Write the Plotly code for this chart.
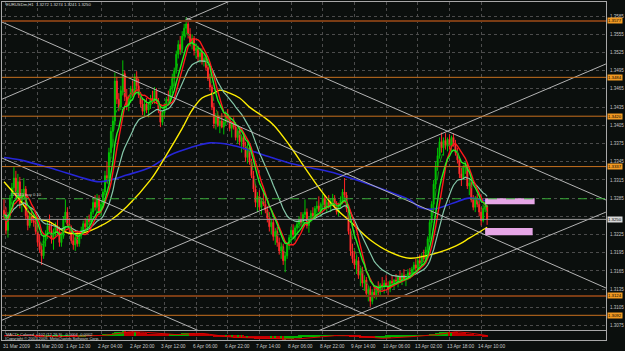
import numpy as np
import pandas as pd
import plotly.graph_objects as go

# ---------------- data ----------------
title_text = "EURUSDm,H1  1.3272 1.3274 1.3241 1.3250"

opens = [
1.3265,1.3258,1.3232,1.3255,1.3285,1.3302,1.3318,1.3292,1.3312,1.3275,
1.3290,1.3300,1.3256,1.3240,1.3255,1.3248,1.3245,1.3230,1.3212,1.3200,
1.3190,1.3215,1.3225,1.3240,1.3232,1.3218,1.3228,1.3238,1.3230,1.3212,
1.3222,1.3250,1.3262,1.3242,1.3235,1.3215,1.3208,1.3220,1.3210,1.3225,
1.3232,1.3243,1.3238,1.3250,1.3246,1.3262,1.3278,1.3270,1.3285,1.3262,
1.3275,1.3295,1.3322,1.3318,1.3360,1.3395,1.3412,1.3478,1.3448,1.3435,
1.3462,1.3490,1.3452,1.3438,1.3450,1.3465,1.3458,1.3485,1.3470,1.3455,
1.3440,1.3428,1.3440,1.3430,1.3438,1.3450,1.3445,1.3462,1.3445,1.3430,
1.3410,1.3425,1.3438,1.3448,1.3445,1.3465,1.3482,1.3495,1.3522,1.3538,
1.3530,1.3552,1.3565,1.3572,1.3555,1.3542,1.3548,1.3528,1.3532,1.3518,
1.3525,1.3510,1.3515,1.3500,1.3482,1.3468,1.3435,1.3408,1.3420,1.3405,
1.3412,1.3402,1.3410,1.3422,1.3415,1.3400,1.3408,1.3402,1.3385,1.3396,
1.3378,1.3385,1.3370,1.3352,1.3368,1.3345,1.3322,1.3300,1.3278,1.3288,
1.3270,1.3280,1.3275,1.3265,1.3252,1.3238,1.3245,1.3222,1.3230,1.3212,
1.3198,1.3205,1.3182,1.3190,1.3208,1.3220,1.3232,1.3225,1.3236,1.3242,
1.3250,1.3245,1.3258,1.3262,1.3240,1.3250,1.3260,1.3255,1.3268,1.3272,
1.3265,1.3275,1.3285,1.3270,1.3278,1.3272,1.3280,1.3285,1.3272,1.3262,
1.3275,1.3282,1.3295,1.3290,1.3268,1.3230,1.3198,1.3185,1.3175,1.3182,
1.3158,1.3165,1.3145,1.3150,1.3128,1.3135,1.3115,1.3130,1.3125,1.3138,
1.3130,1.3142,1.3140,1.3145,1.3140,1.3135,1.3148,1.3145,1.3150,1.3148,
1.3155,1.3150,1.3158,1.3152,1.3155,1.3162,1.3158,1.3168,1.3175,1.3170,
1.3182,1.3178,1.3190,1.3185,1.3200,1.3218,1.3245,1.3275,1.3308,1.3338,
1.3355,1.3378,1.3368,1.3380,1.3372,1.3382,1.3370,1.3385,1.3375,1.3360,
1.3348,1.3325,1.3318,1.3335,1.3340,1.3305,1.3310,1.3282,1.3270,1.3285,
1.3275,1.3262,1.3248,1.3268,1.3272]

highs = [
1.3285,1.3270,1.3262,1.3290,1.3310,1.3336,1.3330,1.3325,1.3320,1.3300,
1.3318,1.3305,1.3270,1.3262,1.3268,1.3258,1.3255,1.3240,1.3225,1.3210,
1.3222,1.3232,1.3248,1.3258,1.3245,1.3235,1.3245,1.3250,1.3238,1.3228,
1.3255,1.3283,1.3270,1.3252,1.3240,1.3230,1.3225,1.3232,1.3228,1.3238,
1.3248,1.3252,1.3255,1.3258,1.3268,1.3285,1.3290,1.3292,1.3290,1.3280,
1.3300,1.3330,1.3345,1.3368,1.3402,1.3420,1.3492,1.3485,1.3458,1.3470,
1.3512,1.3495,1.3465,1.3455,1.3470,1.3478,1.3490,1.3494,1.3482,1.3460,
1.3448,1.3445,1.3450,1.3442,1.3455,1.3462,1.3468,1.3466,1.3450,1.3436,
1.3430,1.3442,1.3452,1.3462,1.3470,1.3490,1.3500,1.3528,1.3545,1.3552,
1.3560,1.3572,1.3583,1.3580,1.3565,1.3555,1.3552,1.3540,1.3536,1.3530,
1.3532,1.3522,1.3520,1.3505,1.3490,1.3472,1.3442,1.3425,1.3428,1.3418,
1.3425,1.3415,1.3428,1.3432,1.3420,1.3412,1.3418,1.3410,1.3400,1.3402,
1.3390,1.3392,1.3378,1.3375,1.3372,1.3350,1.3330,1.3308,1.3295,1.3298,
1.3285,1.3298,1.3290,1.3272,1.3262,1.3250,1.3252,1.3235,1.3238,1.3220,
1.3212,1.3210,1.3195,1.3212,1.3225,1.3238,1.3242,1.3240,1.3248,1.3255,
1.3262,1.3262,1.3283,1.3268,1.3255,1.3265,1.3270,1.3272,1.3280,1.3288,
1.3278,1.3292,1.3290,1.3282,1.3290,1.3285,1.3292,1.3290,1.3280,1.3278,
1.3288,1.3300,1.3318,1.3295,1.3272,1.3235,1.3210,1.3198,1.3190,1.3188,
1.3170,1.3172,1.3158,1.3155,1.3140,1.3140,1.3135,1.3142,1.3140,1.3148,
1.3145,1.3155,1.3150,1.3158,1.3148,1.3150,1.3158,1.3152,1.3160,1.3158,
1.3165,1.3162,1.3168,1.3160,1.3168,1.3170,1.3172,1.3180,1.3185,1.3188,
1.3192,1.3195,1.3200,1.3205,1.3222,1.3250,1.3280,1.3315,1.3345,1.3368,
1.3385,1.3393,1.3385,1.3392,1.3385,1.3390,1.3388,1.3392,1.3381,1.3368,
1.3352,1.3335,1.3340,1.3345,1.3343,1.3318,1.3312,1.3290,1.3288,1.3292,
1.3285,1.3270,1.3275,1.3280,1.3274]

lows = [
1.3250,1.3225,1.3220,1.3250,1.3275,1.3295,1.3285,1.3288,1.3268,1.3262,
1.3282,1.3250,1.3232,1.3236,1.3244,1.3238,1.3225,1.3205,1.3195,1.3175,
1.3185,1.3205,1.3218,1.3228,1.3210,1.3200,1.3222,1.3225,1.3205,1.3205,
1.3218,1.3245,1.3238,1.3228,1.3210,1.3200,1.3198,1.3205,1.3205,1.3218,
1.3225,1.3232,1.3230,1.3240,1.3242,1.3258,1.3265,1.3262,1.3258,1.3255,
1.3270,1.3290,1.3310,1.3315,1.3350,1.3370,1.3405,1.3440,1.3428,1.3430,
1.3455,1.3445,1.3430,1.3428,1.3442,1.3452,1.3455,1.3465,1.3450,1.3435,
1.3422,1.3420,1.3425,1.3418,1.3432,1.3440,1.3440,1.3440,1.3425,1.3402,
1.3405,1.3418,1.3430,1.3440,1.3440,1.3458,1.3470,1.3490,1.3515,1.3522,
1.3525,1.3545,1.3555,1.3548,1.3535,1.3530,1.3520,1.3515,1.3510,1.3508,
1.3505,1.3502,1.3495,1.3478,1.3462,1.3430,1.3400,1.3398,1.3402,1.3392,
1.3400,1.3390,1.3405,1.3410,1.3395,1.3385,1.3398,1.3380,1.3375,1.3372,
1.3360,1.3365,1.3345,1.3342,1.3340,1.3318,1.3295,1.3270,1.3262,1.3265,
1.3258,1.3272,1.3260,1.3245,1.3230,1.3225,1.3215,1.3208,1.3205,1.3192,
1.3185,1.3175,1.3163,1.3185,1.3200,1.3212,1.3218,1.3215,1.3228,1.3235,
1.3238,1.3240,1.3252,1.3235,1.3228,1.3245,1.3250,1.3250,1.3260,1.3262,
1.3255,1.3270,1.3265,1.3262,1.3268,1.3262,1.3275,1.3268,1.3258,1.3255,
1.3268,1.3275,1.3285,1.3262,1.3225,1.3190,1.3178,1.3168,1.3160,1.3152,
1.3140,1.3138,1.3132,1.3122,1.3115,1.3106,1.3110,1.3120,1.3118,1.3125,
1.3122,1.3135,1.3128,1.3138,1.3125,1.3130,1.3140,1.3135,1.3142,1.3138,
1.3145,1.3142,1.3148,1.3140,1.3150,1.3152,1.3155,1.3160,1.3165,1.3166,
1.3172,1.3175,1.3180,1.3182,1.3195,1.3212,1.3240,1.3268,1.3300,1.3330,
1.3350,1.3360,1.3355,1.3365,1.3362,1.3365,1.3362,1.3370,1.3355,1.3342,
1.3318,1.3305,1.3315,1.3325,1.3300,1.3290,1.3278,1.3265,1.3262,1.3270,
1.3255,1.3240,1.3245,1.3262,1.3241]

closes = [
1.3258,1.3232,1.3255,1.3285,1.3302,1.3318,1.3292,1.3312,1.3275,1.3290,
1.3300,1.3256,1.3240,1.3255,1.3248,1.3245,1.3230,1.3212,1.3200,1.3190,
1.3215,1.3225,1.3240,1.3232,1.3218,1.3228,1.3238,1.3230,1.3212,1.3222,
1.3250,1.3262,1.3242,1.3235,1.3215,1.3208,1.3220,1.3210,1.3225,1.3232,
1.3243,1.3238,1.3250,1.3246,1.3262,1.3278,1.3270,1.3285,1.3262,1.3275,
1.3295,1.3322,1.3318,1.3360,1.3395,1.3412,1.3478,1.3448,1.3435,1.3462,
1.3490,1.3452,1.3438,1.3450,1.3465,1.3458,1.3485,1.3470,1.3455,1.3440,
1.3428,1.3440,1.3430,1.3438,1.3450,1.3445,1.3462,1.3445,1.3430,1.3410,
1.3425,1.3438,1.3448,1.3445,1.3465,1.3482,1.3495,1.3522,1.3538,1.3530,
1.3552,1.3565,1.3572,1.3555,1.3542,1.3548,1.3528,1.3532,1.3518,1.3525,
1.3510,1.3515,1.3500,1.3482,1.3468,1.3435,1.3408,1.3420,1.3405,1.3412,
1.3402,1.3410,1.3422,1.3415,1.3400,1.3408,1.3402,1.3385,1.3396,1.3378,
1.3385,1.3370,1.3352,1.3368,1.3345,1.3322,1.3300,1.3278,1.3288,1.3270,
1.3280,1.3275,1.3265,1.3252,1.3238,1.3245,1.3222,1.3230,1.3212,1.3198,
1.3205,1.3182,1.3190,1.3208,1.3220,1.3232,1.3225,1.3236,1.3242,1.3250,
1.3245,1.3258,1.3262,1.3240,1.3250,1.3260,1.3255,1.3268,1.3272,1.3265,
1.3275,1.3285,1.3270,1.3278,1.3272,1.3280,1.3285,1.3272,1.3262,1.3275,
1.3282,1.3295,1.3290,1.3268,1.3230,1.3198,1.3185,1.3175,1.3182,1.3158,
1.3165,1.3145,1.3150,1.3128,1.3135,1.3115,1.3130,1.3125,1.3138,1.3130,
1.3142,1.3140,1.3145,1.3140,1.3135,1.3148,1.3145,1.3150,1.3148,1.3155,
1.3150,1.3158,1.3152,1.3155,1.3162,1.3158,1.3168,1.3175,1.3170,1.3182,
1.3178,1.3190,1.3185,1.3200,1.3218,1.3245,1.3275,1.3308,1.3338,1.3355,
1.3378,1.3368,1.3380,1.3372,1.3382,1.3370,1.3385,1.3375,1.3360,1.3348,
1.3325,1.3318,1.3335,1.3340,1.3305,1.3310,1.3282,1.3270,1.3285,1.3275,
1.3262,1.3248,1.3268,1.3272,1.3250]

# long moving averages (bar index, price)
yellow_bars = [0, 8, 15, 23, 32, 40, 48, 54, 62, 74, 82, 90, 95, 100, 106, 109, 114, 119, 124,
               131, 136, 144, 152, 160, 167, 175, 185, 195, 205, 213, 220, 228, 235, 244]
yellow_vals = [1.3312, 1.3282, 1.3254, 1.3246, 1.3228, 1.3228, 1.3238, 1.3249, 1.3271, 1.3315,
               1.3356, 1.3400, 1.3430, 1.3450, 1.3458, 1.3463, 1.3458, 1.3450, 1.3435,
               1.3419, 1.3406, 1.3373, 1.3335, 1.3298, 1.3270, 1.3246, 1.3216, 1.3196, 1.3186,
               1.3190, 1.3196, 1.3206, 1.3219, 1.3237]
blue_bars = [0, 8, 23, 40, 48, 54, 62, 74, 84, 94, 104, 114, 124, 134, 144, 155, 165, 175,
             185, 195, 205, 210, 217, 227, 235, 244]
blue_vals = [1.3352, 1.3348, 1.3335, 1.3318, 1.3312, 1.3315, 1.3323, 1.3336, 1.3356, 1.3368,
             1.3376, 1.3373, 1.3364, 1.3353, 1.3343, 1.3335, 1.3328, 1.3318, 1.3307, 1.3295,
             1.3282, 1.3270, 1.3267, 1.3277, 1.3285, 1.3280]

time_label_bars = [1, 17, 33, 49, 65, 81, 97, 113, 129, 145, 161, 177, 193, 209, 225, 241]
time_labels = ["31 Mar 2009", "31 Mar 20:00", "1 Apr 12:00", "2 Apr 04:00", "2 Apr 20:00",
               "3 Apr 12:00", "6 Apr 06:00", "6 Apr 22:00", "7 Apr 14:00", "8 Apr 06:00",
               "8 Apr 22:00", "9 Apr 14:00", "10 Apr 06:00", "13 Apr 02:00", "13 Apr 18:00",
               "14 Apr 10:00"]

price_ticks = [1.3075, 1.3105, 1.3135, 1.3165, 1.3195, 1.3225, 1.3255, 1.3285, 1.3315,
               1.3345, 1.3375, 1.3405, 1.3435, 1.3465, 1.3495, 1.3525, 1.3555, 1.3585]
# 1.3255 is hidden behind the current-price box in the original
price_tick_text = ["1.3075", "1.3105", "1.3135", "1.3165", "1.3195", "1.3225", "",
                   "1.3285", "1.3315", "1.3345", "1.3375", "1.3405", "1.3435", "1.3465",
                   "1.3495", "1.3525", "1.3555", "1.3585"]

levels = [1.3577, 1.3484, 1.3420, 1.3337, 1.3124, 1.3092]
level_major = [True, False, False, False, True, False]
order_price = 1.3284
bid_price = 1.3250
order_label = "#12345 buy 0.10"

# trend lines: (bar0, price0, bar1, price1)
trend_lines = [
    (-1.0, 1.3575, 304.0, 1.3137),
    (-1.0, 1.3448, 129.3, 1.3631),
    (92.0, 1.3582, 304.0, 1.3282),
    (-1.0, 1.3351, 304.0, 1.2923),
    (-1.0, 1.3206, 304.0, 1.2778),
    (124.2, 1.3020, 304.0, 1.3262),
    (-1.0, 1.3084, 304.0, 1.3506),
]
# pink zones: (bar0, bar1, price_low, price_high)
zones = [(243, 268, 1.3275, 1.3285), (243, 267, 1.3224, 1.3236)]

sub_text_1 = "MACD_Colored_v102 (12,26,9)  -0.0004 -0.0002"
sub_text_2 = "Copyright \u00a9 2001-2009, MetaQuotes Software Corp."

# ---------------- derived indicators ----------------
bars = list(range(len(closes)))
cs = pd.Series(closes)
ema_fast = cs.ewm(span=4, adjust=False).mean()
ema_green = cs.ewm(span=8, adjust=False).mean()
ma_red = cs.rolling(9, min_periods=1).mean()
ema_teal = cs.ewm(span=21, adjust=False).mean()
macd = cs.ewm(span=12, adjust=False).mean() - cs.ewm(span=26, adjust=False).mean()
signal = macd.rolling(9, min_periods=1).mean()
macd_cols = ["#00b000" if i == 0 or macd[i] >= macd[i - 1] else "#c00000" for i in bars]

W, H = 625, 351
BG = "#0b0f0d"
FONT = "Liberation Sans"

fig = go.Figure()

fig.add_trace(go.Candlestick(
    x=bars, open=opens, high=highs, low=lows, close=closes,
    increasing=dict(line=dict(color="#00c400", width=1), fillcolor="#00c400"),
    decreasing=dict(line=dict(color="#ff2424", width=1), fillcolor="#ff7878"),
    whiskerwidth=0, hoverinfo="skip", xaxis="x", yaxis="y"))

fig.add_trace(go.Scatter(x=blue_bars, y=blue_vals, mode="lines", line=dict(color="#2626d8", width=1.6, shape="spline"), hoverinfo="skip"))
fig.add_trace(go.Scatter(x=yellow_bars, y=yellow_vals, mode="lines", line=dict(color="#ffee00", width=1.4, shape="spline"), hoverinfo="skip"))
fig.add_trace(go.Scatter(x=bars, y=ema_teal, mode="lines", line=dict(color="#86c8aa", width=1.2), hoverinfo="skip"))
fig.add_trace(go.Scatter(x=bars, y=ma_red, mode="lines", line=dict(color="#ff1a1a", width=1.4), hoverinfo="skip"))
fig.add_trace(go.Scatter(x=bars, y=ema_green, mode="lines", line=dict(color="#22ee22", width=1.4), hoverinfo="skip"))
fig.add_trace(go.Scatter(x=bars, y=ema_fast, mode="lines", line=dict(color="#10a010", width=1, dash="dash"), hoverinfo="skip"))

for b0, p0, b1, p1 in trend_lines:
    fig.add_trace(go.Scatter(x=[b0, b1], y=[p0, p1], mode="lines",
                             line=dict(color="#b4b4b4", width=1), hoverinfo="skip"))

# sub window
fig.add_trace(go.Bar(x=bars, y=macd, marker=dict(color=macd_cols, line=dict(width=0)),
                     width=0.6, xaxis="x2", yaxis="y2", hoverinfo="skip"))
fig.add_trace(go.Scatter(x=bars, y=signal, mode="lines", line=dict(color="#e00000", width=1),
                         xaxis="x2", yaxis="y2", hoverinfo="skip"))

shapes = []
for (b0, b1, lo, hi) in zones:
    shapes.append(dict(type="rect", xref="x", yref="y", x0=b0, x1=b1, y0=lo, y1=hi,
                       fillcolor="#e6a6e6", line=dict(width=0), layer="above"))
for lv, major in zip(levels, level_major):
    shapes.append(dict(type="line", xref="x domain", yref="y", x0=0, x1=1, y0=lv, y1=lv,
                       line=dict(color="#7a3c14" if major else "#c8701e", width=2 if major else 1)))
shapes.append(dict(type="line", xref="x domain", yref="y", x0=0, x1=1, y0=bid_price, y1=bid_price,
                   line=dict(color="#9a9a9a", width=1)))
shapes.append(dict(type="line", xref="x domain", yref="y", x0=0, x1=1, y0=order_price, y1=order_price,
                   line=dict(color="#34a834", width=1, dash="dash")))

annotations = []
annotations.append(dict(text=title_text, xref="paper", yref="paper", x=4 / W, y=1 - 5 / H,
                        xanchor="left", yanchor="middle", showarrow=False,
                        font=dict(size=4.2, color="#d8d8d8", family=FONT)))
annotations.append(dict(text=order_label, xref="x", yref="y", x=2, y=order_price, yanchor="bottom",
                        xanchor="left", showarrow=False, font=dict(size=4.2, color="#d0d0d0", family=FONT)))
for lv in levels:
    annotations.append(dict(text=f"{lv:.4f}", xref="paper", yref="y", x=607 / W, y=lv,
                            xanchor="left", yanchor="middle", showarrow=False, bgcolor="#f29a22",
                            borderpad=0, font=dict(size=4.3, color="#000000", family=FONT)))
annotations.append(dict(text=f"{bid_price:.4f}", xref="paper", yref="y", x=607 / W, y=bid_price,
                        xanchor="left", yanchor="middle", showarrow=False, bgcolor="#d8d8d8",
                        borderpad=0, font=dict(size=4.3, color="#000000", family=FONT)))
for b, t in zip(time_label_bars, time_labels):
    annotations.append(dict(text=t, xref="x", yref="paper", x=b, y=(H - 346) / H, xshift=-5,
                            xanchor="left", yanchor="middle", showarrow=False,
                            font=dict(size=4.8, color="#c8c8c8", family=FONT)))
annotations.append(dict(text=sub_text_1, xref="paper", yref="paper", x=4 / W, y=(H - 334.5) / H,
                        xanchor="left", yanchor="middle", showarrow=False,
                        font=dict(size=4, color="#d0d0d0", family=FONT)))
annotations.append(dict(text=sub_text_2, xref="paper", yref="paper", x=4 / W, y=(H - 338.5) / H,
                        xanchor="left", yanchor="middle", showarrow=False,
                        font=dict(size=4, color="#d0d0d0", family=FONT)))

grid = dict(showgrid=True, gridcolor="#4c4c4c", griddash="dot", gridwidth=1)
xdom = [2 / W, 606 / W]
xr = [-1.01, 304.04]
fig.update_layout(
    width=W, height=H, margin=dict(l=0, r=0, t=0, b=0),
    paper_bgcolor=BG, plot_bgcolor=BG, showlegend=False,
    font=dict(family=FONT, size=5, color="#c8c8c8"),
    shapes=shapes, annotations=annotations, bargap=0,
    xaxis=dict(domain=xdom, range=xr, anchor="y", tickvals=time_label_bars, showticklabels=False,
               ticks="", zeroline=False, showline=True, linecolor="#a8a8a8", mirror=True,
               rangeslider=dict(visible=False), **grid),
    yaxis=dict(domain=[(H - 330) / H, (H - 2) / H], range=[1.30678, 1.36081], anchor="x",
               side="right", tickvals=price_ticks, ticktext=price_tick_text, ticks="",
               tickfont=dict(size=4.5, color="#c4c4c4", family=FONT), ticklabelstandoff=2,
               zeroline=False, showline=True, linecolor="#a8a8a8", mirror=True, **grid),
    xaxis2=dict(domain=xdom, range=xr, anchor="y2", matches="x", tickvals=time_label_bars,
                showticklabels=False, ticks="", zeroline=False, showline=True,
                linecolor="#a8a8a8", mirror=True, **grid),
    yaxis2=dict(domain=[(H - 340) / H, (H - 331) / H], anchor="x2", showticklabels=False,
                ticks="", showgrid=False, zeroline=False, showline=True, linecolor="#a8a8a8",
                mirror=True),
)

fig.write_html("out.html")
